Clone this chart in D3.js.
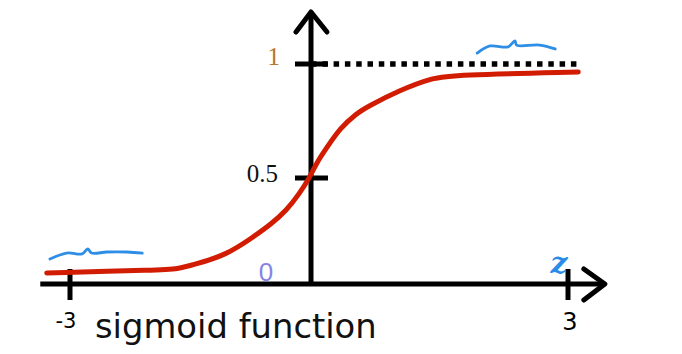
<!DOCTYPE html>
<html>
<head>
<meta charset="utf-8">
<script src="https://cdn.jsdelivr.net/npm/d3@7"></script>
<style>
  body { margin: 0; background: #fff; }
  svg { display: block; }
</style>
</head>
<body>
<div id="chart"></div>
<script>
// ---- data ----
const xTicks = [-3, 3];
const yTicks = [0.5, 1];
const xTickLabels = ["-3", "3"];
const yTickLabels = ["0.5", "1"];

// hand drawn sigmoid (z, value)
const curveZ = [-3.29, -1.88, -1.66, -1.47, -1.05, -0.72, -0.51, -0.30, -0.14, -0.02, 0.07, 0.19, 0.34, 0.54, 0.65, 1.04, 1.42, 1.66, 3.12];
const curveV = [0.052, 0.066, 0.071, 0.090, 0.137, 0.222, 0.278, 0.349, 0.429, 0.5, 0.570, 0.636, 0.719, 0.785, 0.811, 0.886, 0.939, 0.952, 0.965];

// blue scribbles (annotation marks)
const leftScribbleZ = [-3.25, -3.04, -2.85, -2.78, -2.73, -2.54, -2.29, -2.10];
const leftScribbleV = [0.118, 0.146, 0.142, 0.165, 0.146, 0.151, 0.151, 0.146];
const rightScribbleZ = [1.94, 2.09, 2.30, 2.38, 2.40, 2.67, 2.85];
const rightScribbleV = [1.048, 1.079, 1.075, 1.101, 1.083, 1.083, 1.066];

const axisZ = [-3.37, 3.43];
const axisV = [0, 1.228];
const dottedZ = [0, 3.12];

// ---- drawing ----
const width = 682, height = 354;

const svg = d3.select("#chart").append("svg")
    .attr("width", width)
    .attr("height", height);

// hand drawn axes are not quite symmetric, so piecewise scales
const x = d3.scaleLinear().domain([-3, 0, 3]).range([70, 311, 568]);
const y = d3.scaleLinear().domain([0, 0.5, 1]).range([284, 178, 64]);

const line = d3.line().x(d => x(d[0])).y(d => y(d[1]));

// dotted line at 1
svg.append("line")
    .attr("x1", x(dottedZ[0])).attr("x2", x(dottedZ[1]))
    .attr("y1", y(1)).attr("y2", y(1))
    .attr("stroke", "#000")
    .attr("stroke-width", 5.5)
    .attr("stroke-dasharray", "5.5 5.8");

// axes
svg.append("line")
    .attr("x1", x(axisZ[0])).attr("x2", x(axisZ[1]))
    .attr("y1", y(0)).attr("y2", y(0))
    .attr("stroke", "#000").attr("stroke-width", 5);

svg.append("line")
    .attr("x1", x(0)).attr("x2", x(0))
    .attr("y1", y(axisV[0])).attr("y2", y(axisV[1]))
    .attr("stroke", "#000").attr("stroke-width", 5);

// arrow heads
const xTip = [x(axisZ[1]), y(0)];
svg.append("path")
    .attr("d", `M${xTip[0] - 21},${xTip[1] - 15}L${xTip[0]},${xTip[1]}L${xTip[0] - 21},${xTip[1] + 16}`)
    .attr("fill", "none").attr("stroke", "#000")
    .attr("stroke-width", 5).attr("stroke-linecap", "round").attr("stroke-linejoin", "round");

const yTip = [x(0), y(axisV[1])];
svg.append("path")
    .attr("d", `M${yTip[0] - 15},${yTip[1] + 20}L${yTip[0]},${yTip[1]}L${yTip[0] + 16},${yTip[1] + 20}`)
    .attr("fill", "none").attr("stroke", "#000")
    .attr("stroke-width", 5).attr("stroke-linecap", "round").attr("stroke-linejoin", "round");

// x ticks
svg.selectAll(".xtick")
    .data(xTicks)
    .enter()
    .append("line")
    .attr("class", "xtick")
    .attr("x1", d => x(d)).attr("x2", d => x(d))
    .attr("y1", y(0) - 15).attr("y2", y(0) + 16)
    .attr("stroke", "#000").attr("stroke-width", 5);

// y ticks
svg.selectAll(".ytick")
    .data(yTicks)
    .enter()
    .append("line")
    .attr("class", "ytick")
    .attr("x1", x(0) - 16).attr("x2", x(0) + 17)
    .attr("y1", d => y(d)).attr("y2", d => y(d))
    .attr("stroke", "#000").attr("stroke-width", 5);

// sigmoid curve (b-spline to smooth the hand drawn points)
svg.append("path")
    .datum(d3.zip(curveZ, curveV))
    .attr("d", line.curve(d3.curveBasis))
    .attr("fill", "none")
    .attr("stroke", "#d21c02")
    .attr("stroke-width", 5)
    .attr("stroke-linecap", "round");

// scribbles
[[leftScribbleZ, leftScribbleV], [rightScribbleZ, rightScribbleV]].forEach(s => {
    svg.append("path")
        .datum(d3.zip(s[0], s[1]))
        .attr("d", d3.line().x(d => x(d[0])).y(d => y(d[1])).curve(d3.curveCatmullRom))
        .attr("fill", "none")
        .attr("stroke", "#2e8ee6")
        .attr("stroke-width", 2.8)
        .attr("stroke-linecap", "round")
        .attr("stroke-linejoin", "round");
});

// x tick labels
svg.append("text")
    .attr("x", x(xTicks[0]) - 4).attr("y", 328)
    .attr("text-anchor", "middle")
    .style("font", "21px 'DejaVu Sans'")
    .text(xTickLabels[0]);

svg.append("text")
    .attr("x", x(xTicks[1]) + 2).attr("y", 330)
    .attr("text-anchor", "middle")
    .style("font", "24px 'DejaVu Sans'")
    .text(xTickLabels[1]);

// y tick labels
svg.append("text")
    .attr("x", x(0) - 33).attr("y", y(yTicks[0]) + 4)
    .attr("text-anchor", "end")
    .style("font", "25px 'Liberation Serif'")
    .attr("fill", "#111")
    .text(yTickLabels[0]);

svg.append("text")
    .attr("x", x(0) - 31).attr("y", y(yTicks[1]) + 1)
    .attr("text-anchor", "end")
    .style("font", "25px 'Liberation Serif'")
    .attr("fill", "#b5782e")
    .text(yTickLabels[1]);

// zero label
svg.append("text")
    .attr("x", x(0) - 45).attr("y", y(0) - 3)
    .attr("text-anchor", "middle")
    .style("font", "26px 'Liberation Sans'")
    .attr("fill", "#8585e6")
    .text("0");

// z label
svg.append("text")
    .attr("x", x(3) - 9).attr("y", y(0) - 11)
    .attr("text-anchor", "middle")
    .style("font", "italic bold 30px 'DejaVu Serif'")
    .attr("fill", "#2b8be8")
    .text("z");

// title
svg.append("text")
    .attr("x", 95).attr("y", 338)
    .style("font", "33.8px 'DejaVu Sans'")
    .attr("fill", "#111")
    .text("sigmoid function");
</script>
</body>
</html>
